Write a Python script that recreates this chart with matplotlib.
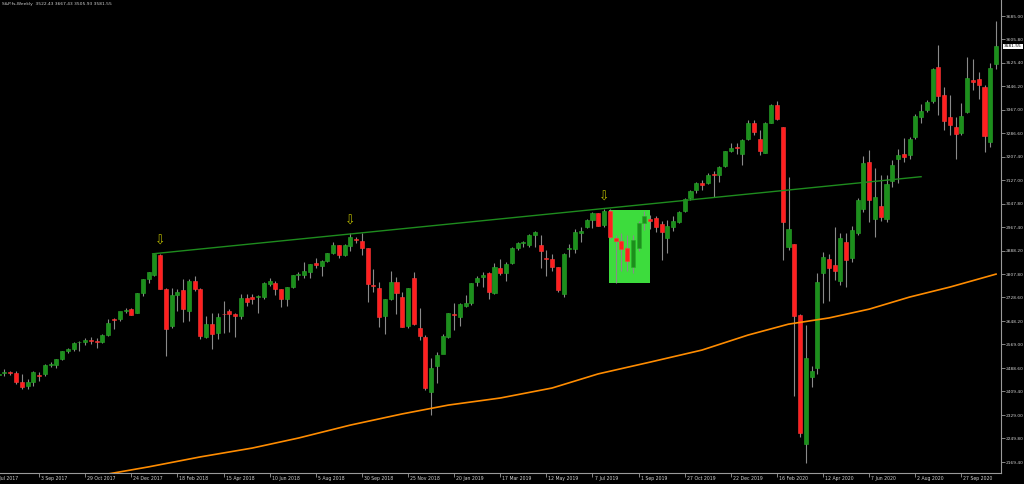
import pandas as pd
import matplotlib
matplotlib.use("Agg")
import matplotlib.pyplot as plt
from matplotlib.patches import Rectangle
from matplotlib.transforms import blended_transform_factory

# S&P futures, weekly candles
start_date = "2017-07-16"

opens = [2466, 2472, 2474, 2473, 2443, 2428, 2443, 2466, 2468, 2499,
         2500, 2518, 2546, 2553, 2576, 2577, 2584, 2580, 2578, 2601,
         2655, 2654, 2684, 2688, 2677, 2743, 2790, 2805, 2873, 2756,
         2630, 2737, 2753, 2684, 2783, 2756, 2596, 2638, 2609, 2673,
         2684, 2672, 2664, 2728, 2729, 2729, 2729, 2776, 2779, 2756,
         2722, 2763, 2805, 2805, 2816, 2845, 2837, 2852, 2879, 2907,
         2873, 2904, 2928, 2922, 2896, 2771, 2760, 2667, 2723, 2780,
         2731, 2631, 2794, 2626, 2595, 2409, 2497, 2537, 2593, 2672,
         2663, 2700, 2711, 2782, 2797, 2813, 2745, 2828, 2813, 2845,
         2896, 2913, 2907, 2940, 2907, 2862, 2860, 2831, 2742, 2893,
         2893, 2947, 2969, 2992, 3014, 2975, 3023, 2930, 2920, 2896,
         2831, 2896, 2983, 2994, 3000, 2977, 2930, 2969, 2984, 3023,
         3066, 3094, 3119, 3119, 3148, 3145, 3175, 3226, 3240, 3216,
         3266, 3323, 3266, 3221, 3323, 3383, 3307, 2901, 2909, 2669,
         2230, 2457, 2488, 2813, 2861, 2839, 2786, 2918, 2862, 2949,
         3028, 3190, 2995, 3040, 2995, 3125, 3198, 3216, 3212, 3273,
         3342, 3366, 3397, 3511, 3417, 3341, 3309, 3289, 3358, 3466,
         3470, 3443, 3258, 3522.43]
highs = [2477, 2484, 2478, 2478, 2470, 2452, 2478, 2474, 2501, 2508,
         2519, 2548, 2556, 2576, 2582, 2590, 2596, 2592, 2604, 2657,
         2659, 2679, 2694, 2694, 2745, 2790, 2816, 2876, 2878, 2760,
         2760, 2757, 2790, 2790, 2803, 2760, 2665, 2675, 2675, 2718,
         2690, 2676, 2740, 2739, 2742, 2737, 2781, 2795, 2786, 2758,
         2763, 2806, 2816, 2848, 2843, 2864, 2856, 2880, 2916, 2908,
         2910, 2947, 2935, 2947, 2898, 2824, 2782, 2723, 2819, 2799,
         2748, 2762, 2816, 2692, 2600, 2522, 2542, 2604, 2677, 2710,
         2709, 2737, 2778, 2800, 2814, 2816, 2845, 2861, 2850, 2900,
         2916, 2920, 2945, 2956, 2941, 2890, 2878, 2831, 2880, 2910,
         2962, 2968, 2996, 3020, 3017, 3028, 3028, 2941, 2947, 2941,
         2941, 2990, 3023, 3008, 3005, 2990, 2992, 3005, 3023, 3068,
         3095, 3121, 3127, 3150, 3159, 3176, 3228, 3254, 3252, 3268,
         3330, 3332, 3298, 3326, 3386, 3397, 3307, 3137, 2912, 2672,
         2635, 2495, 2811, 2884, 2876, 2967, 2949, 2947, 2970, 3068,
         3209, 3230, 3167, 3145, 3145, 3196, 3232, 3270, 3275, 3352,
         3385, 3400, 3510, 3586, 3445, 3417, 3343, 3388, 3547, 3538,
         3496, 3450, 3524, 3667.43]
lows = [2458, 2462, 2466, 2436, 2418, 2417, 2428, 2446, 2463, 2494,
        2488, 2516, 2540, 2546, 2546, 2566, 2570, 2557, 2575, 2598,
        2622, 2648, 2677, 2669, 2675, 2735, 2778, 2800, 2757, 2531,
        2625, 2684, 2646, 2647, 2750, 2586, 2590, 2553, 2586, 2607,
        2613, 2593, 2655, 2700, 2708, 2677, 2725, 2766, 2737, 2695,
        2700, 2760, 2788, 2794, 2796, 2828, 2803, 2850, 2876, 2864,
        2870, 2886, 2915, 2873, 2714, 2748, 2629, 2604, 2720, 2671,
        2627, 2625, 2635, 2584, 2414, 2330, 2439, 2571, 2590, 2618,
        2630, 2697, 2702, 2766, 2765, 2722, 2740, 2805, 2785, 2843,
        2890, 2900, 2900, 2901, 2828, 2801, 2820, 2748, 2729, 2867,
        2880, 2918, 2965, 2964, 2970, 2969, 2929, 2779, 2820, 2820,
        2811, 2887, 2958, 2960, 2950, 2856, 2881, 2955, 2980, 3018,
        3060, 3085, 3095, 3115, 3069, 3120, 3173, 3224, 3216, 3179,
        3263, 3281, 3213, 3218, 3320, 3330, 2856, 2890, 2394, 2255,
        2167, 2425, 2470, 2711, 2718, 2788, 2771, 2763, 2850, 2940,
        3020, 2986, 2935, 2990, 2985, 3105, 3119, 3190, 3200, 3268,
        3322, 3358, 3390, 3349, 3298, 3281, 3198, 3280, 3355, 3434,
        3402, 3224, 3241, 3505.93]
closes = [2470, 2474, 2473, 2443, 2426, 2443, 2475, 2463, 2500, 2501,
          2518, 2546, 2553, 2575, 2577, 2583, 2581, 2577, 2601, 2643,
          2652, 2684, 2686, 2670, 2743, 2790, 2814, 2875, 2757, 2622,
          2737, 2746, 2690, 2783, 2756, 2598, 2638, 2605, 2661, 2671,
          2672, 2664, 2728, 2712, 2722, 2735, 2779, 2783, 2756, 2722,
          2763, 2805, 2806, 2818, 2841, 2838, 2852, 2879, 2907, 2873,
          2907, 2933, 2923, 2896, 2773, 2769, 2663, 2723, 2780, 2743,
          2629, 2762, 2638, 2598, 2422, 2488, 2533, 2598, 2677, 2668,
          2705, 2709, 2777, 2795, 2805, 2748, 2831, 2813, 2841, 2896,
          2913, 2914, 2941, 2950, 2887, 2860, 2831, 2754, 2876, 2896,
          2950, 2956, 2992, 3014, 2972, 3022, 2935, 2922, 2892, 2852,
          2924, 2983, 3006, 2990, 2967, 2950, 2971, 2990, 3020, 3062,
          3092, 3119, 3111, 3145, 3146, 3171, 3226, 3235, 3237, 3264,
          3323, 3290, 3227, 3321, 3383, 3335, 2986, 2960, 2667, 2267,
          2522, 2480, 2782, 2867, 2830, 2820, 2930, 2856, 2958, 3060,
          3185, 3060, 3070, 3002, 3114, 3178, 3214, 3205, 3268, 3346,
          3362, 3393, 3505, 3413, 3328, 3315, 3284, 3345, 3475, 3462,
          3451, 3277, 3509, 3581.55]

# 200-week moving average, read at a few bars (bar index, price)
ma_bars = [19, 26, 35, 44, 52, 61, 70, 78, 87, 96, 104, 113, 122, 130,
           137, 144, 151, 158, 165, 173]
ma_values = [2129, 2153, 2187, 2217, 2251, 2295, 2333, 2363, 2387, 2421,
             2469, 2509, 2550, 2601, 2638, 2659, 2689, 2730, 2764, 2808]

# trendline anchors (bar index, price)
trend_bars = [26.7, 160.0]
trend_prices = [2877, 3139]

# arrow markers over swing highs (bar index)
arrow_bars = [28, 61, 105]

# highlighted box (bar index from/to, price from/to)
box_bars = [105.9, 113.0]
box_prices = [2778.8, 3025.8]

price_ticks = [3685.00, 3605.80, 3525.40, 3446.20, 3367.00, 3286.60, 3207.40,
               3127.00, 3047.80, 2967.40, 2888.20, 2807.80, 2728.60, 2648.20,
               2569.00, 2488.60, 2409.40, 2329.00, 2249.80, 2169.40]

header = "S&P.fs,Weekly  3522.43 3667.43 3505.93 3581.55"

bars = pd.DataFrame({"open": opens, "high": highs, "low": lows, "close": closes})
bars["date"] = pd.date_range(start_date, periods=len(bars), freq="7D")
x = list(range(len(bars)))

fig = plt.figure(figsize=(10.24, 4.84), dpi=100, facecolor="black")
ax = fig.add_axes([0, 11 / 484, 1001 / 1024, 473 / 484], facecolor="black")

# highlight box behind the candles
ax.add_patch(Rectangle((box_bars[0], box_prices[0]), box_bars[1] - box_bars[0],
                       box_prices[1] - box_prices[0], facecolor="#3ddc3d",
                       edgecolor="none", zorder=1))

# wicks
ax.vlines(x, bars["low"], bars["high"], color="#8a8a8a", linewidth=0.8, zorder=2)

# bodies
up = bars["close"] >= bars["open"]
body_bottom = bars[["open", "close"]].min(axis=1)
body_height = (bars["close"] - bars["open"]).abs().clip(lower=2.5)
colors = ["#1c8f1c" if u else "#ff1f1f" for u in up]
edges = ["#2aa82a" if u else "#ff3a3a" for u in up]
ax.bar(x, body_height, bottom=body_bottom, width=0.7, color=colors,
       edgecolor=edges, linewidth=0.4, zorder=3)

# moving average and trendline
ax.plot(ma_bars, ma_values, color="#ff8c00", linewidth=1.2, zorder=4)
ax.plot(trend_bars, trend_prices, color="#1e8c1e", linewidth=1.0, zorder=4)

# down arrows over the highs
for b in arrow_bars:
    ax.annotate("\u21e9", xy=(b, bars["high"][b]), xytext=(0, 12),
                textcoords="offset pixels", ha="center", va="center",
                fontsize=9, color="#b8b800", zorder=5)

ax.set_xlim(0.2255, 173.86)
ax.set_ylim(2132.2, 3739.4)

# axes styling like the trading terminal
for side in ["top", "left"]:
    ax.spines[side].set_visible(False)
for side in ["right", "bottom"]:
    ax.spines[side].set_color("#9a9a9a")
    ax.spines[side].set_linewidth(0.8)

ax.yaxis.tick_right()
ax.set_yticks(price_ticks)
ax.set_yticklabels([f"{p:.2f}" for p in price_ticks])
ax.tick_params(axis="y", colors="#9a9a9a", labelcolor="#d0d0d0", length=3,
               width=0.6, pad=0.6, labelsize=3.2)

# date ticks every 8 weeks, labels start just right of the tick
tick_dates = pd.date_range("2017-07-09", "2020-09-27", freq="56D")
tick_pos = [(d - bars["date"][0]).days / 7 for d in tick_dates]
tick_labels = [f"{d.day} {d.strftime('%b %Y')}" for d in tick_dates]
ax.set_xticks([p for p in tick_pos if p >= 0])
ax.set_xticklabels([])
ax.tick_params(axis="x", colors="#9a9a9a", length=3, width=0.6)
xtrans = blended_transform_factory(ax.transData, ax.transAxes)
for p, t in zip(tick_pos, tick_labels):
    ax.text(p + 0.35, -0.012, t, transform=xtrans, fontsize=3.3,
            color="#d0d0d0", ha="left", va="center", clip_on=False)

# last price box
trans = blended_transform_factory(ax.transAxes, ax.transData)
ax.text(1.003, closes[-1], f"{closes[-1]:.2f}", transform=trans, fontsize=3.1,
        color="black", va="center", ha="left",
        bbox=dict(boxstyle="square,pad=0.2", facecolor="white", edgecolor="none"))

fig.text(2 / 1024, 1 - 4 / 484, header, fontsize=3.2, color="#d0d0d0",
         ha="left", va="center")

fig.savefig("out.png", dpi=100, facecolor="black")
